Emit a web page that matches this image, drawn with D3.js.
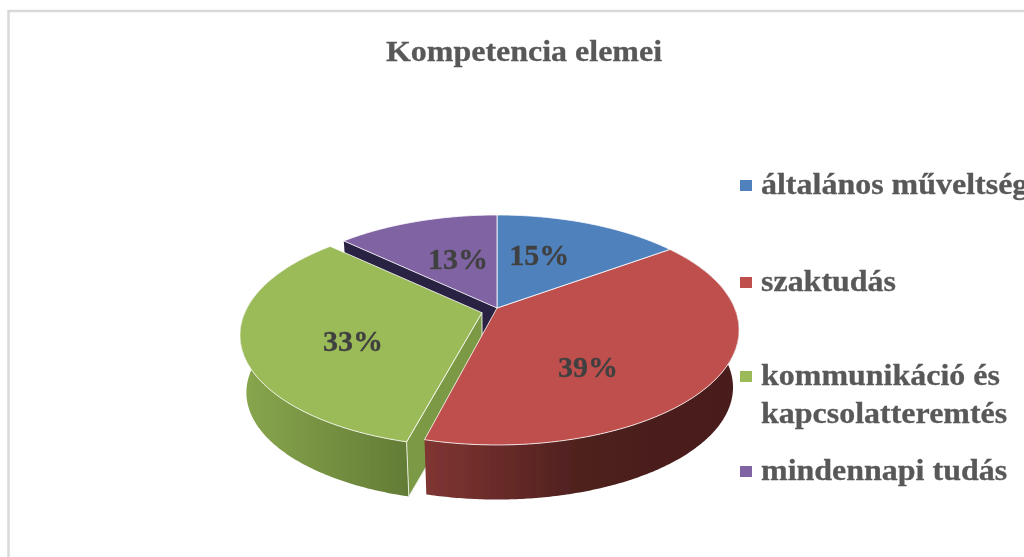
<!DOCTYPE html>
<html><head><meta charset="utf-8">
<script src="https://cdn.jsdelivr.net/npm/d3@7"></script>
<style>html,body{margin:0;padding:0;background:#fff;overflow:hidden}svg{display:block}
text{font-family:"Liberation Serif",serif;font-weight:bold}</style></head>
<body><div id="c"></div>
<script>
const categories=["általános műveltség","szaktudás","kommunikáció és\nkapcsolatteremtés","mindennapi tudás"];
const values=[15,39,33,13];
const labels=["15%","39%","33%","13%"];
const title="Kompetencia elemei";
const colors=["#4f81bd","#bf504d","#9bbb59","#8064a2"];

const W=1024,H=557;
const svg=d3.select("#c").append("svg").attr("width",W).attr("height",H);
const defs=svg.append("defs");
defs.append("filter").attr("id","soft").append("feGaussianBlur").attr("stdDeviation",0.45);
function grad(id,x1,x2,stops){
  const g=defs.append("linearGradient").attr("id",id).attr("gradientUnits","userSpaceOnUse")
    .attr("x1",x1).attr("x2",x2).attr("y1",0).attr("y2",0);
  stops.forEach(s=>g.append("stop").attr("offset",s[0]).attr("stop-color",s[1]));
}
grad("gGreen",243,408,[[0,"#88a64d"],[1,"#637c36"]]);
grad("gRed",426,739,[[0,"#803532"],[.5,"#4d201e"],[1,"#4a1e1c"]]);

svg.append("rect").attr("x",8.5).attr("y",11).attr("width",W+20).attr("height",H+20)
  .attr("fill","#fff").attr("stroke","#d9d9d9").attr("stroke-width",2.5);

const cx=497,cy=308,R=237.6,S=110.8,k=0.191,depth=58,shrink=0.975;
const sx=d3.scaleLinear().domain([-1,1]).range([cx-R,cx+R]);
const sy=d3.scaleLinear().domain([-1,1]).range([cy-S,cy+S]);
function proj(u,v,low){
  const w=1-k*v;
  let x=sx(u/w),y=sy(v/w);
  if(low){x=cx+(x-cx)*shrink;y=cy+(y-cy)*shrink+depth;}
  return [x,y];
}
const pie=d3.pie().sort(null).value(d=>d)(values);
// offset and radial scale of each slice on the pie plane: du, dv, su, sv
const explode=[[0,0,1,1],[0,0,1,1],[-0.063,0.042,.99,.97],[0,0,1,1]];
const line=d3.line();
function onSlice(a,o,r){
  return [Math.sin(a)*r*o[2]+o[0],-Math.cos(a)*r*o[3]+o[1]];
}
function rim(a0,a1,o,low){
  const n=Math.max(2,Math.ceil((a1-a0)/0.01));
  return d3.range(n+1).map(i=>{
    const a=a0+(a1-a0)*i/n,e=onSlice(a,o,1);
    return proj(e[0],e[1],low);
  });
}
const g=svg.append("g").attr("filter","url(#soft)");
function face(i){
  const p=pie[i],o=explode[i];
  const pts=[proj(o[0],o[1],false),...rim(p.startAngle,p.endAngle,o,false)];
  g.append("path").attr("d",line(pts)+"Z").attr("fill",colors[i])
   .attr("stroke","#fff").attr("stroke-opacity",.8).attr("stroke-width",1).attr("stroke-linejoin","round");
}
function wall(i,fill){
  const p=pie[i],o=explode[i];
  const top=rim(p.startAngle,p.endAngle,o,false),bot=rim(p.startAngle,p.endAngle,o,true).reverse();
  g.append("path").attr("d",line(top.concat(bot))+"Z").attr("fill",fill);
}
function cut(i,angle,fill,stroke){
  const o=explode[i],e=onSlice(angle,o,1);
  const pts=[proj(o[0],o[1],false),proj(e[0],e[1],false),proj(e[0],e[1],true),proj(o[0],o[1],true)];
  const el=g.append("path").attr("d",line(pts)+"Z").attr("fill",fill);
  if(stroke) el.attr("stroke","#e8ecdf").attr("stroke-width",1);
}
cut(3,pie[3].startAngle,"#2b2142",false);
wall(2,"url(#gGreen)");
cut(2,pie[2].startAngle,"#7c9a44",true);
wall(1,"url(#gRed)");
face(1);face(0);face(3);face(2);

const labelR=0.56;
const labelNudge=[[-13,-2],[-26,23],[3,12],[9,4]];
const stretch=1.066;
const gl=svg.append("g").attr("filter","url(#soft)");
function heavy(sel,col){return sel.attr("fill",col).attr("stroke",col).attr("stroke-width",.3);}
pie.forEach((p,i)=>{
  const a=(p.startAngle+p.endAngle)/2,o=explode[i],e=onSlice(a,o,labelR);
  const q=proj(e[0],e[1],false);
  heavy(gl.append("text"),"#404040").attr("x",q[0]+labelNudge[i][0]).attr("y",q[1]+labelNudge[i][1]+9)
    .attr("text-anchor","middle").attr("font-size",30).text(labels[i]);
});
heavy(gl.append("text"),"#595959").attr("transform",`translate(524,61) scale(${stretch},1)`)
  .attr("text-anchor","middle").attr("font-size",30).text(title);

const lgX=740,lgTx=761;
const lgBase=[194,291,385,480];
categories.forEach((c,i)=>{
  gl.append("rect").attr("x",lgX).attr("y",lgBase[i]-14).attr("width",12).attr("height",11).attr("fill",colors[i]);
  c.split("\n").forEach((t,j)=>{
    heavy(gl.append("text"),"#595959").attr("transform",`translate(${lgTx},${lgBase[i]+j*38}) scale(${stretch},1)`)
      .attr("font-size",30).text(t);
  });
});
</script></body></html>
